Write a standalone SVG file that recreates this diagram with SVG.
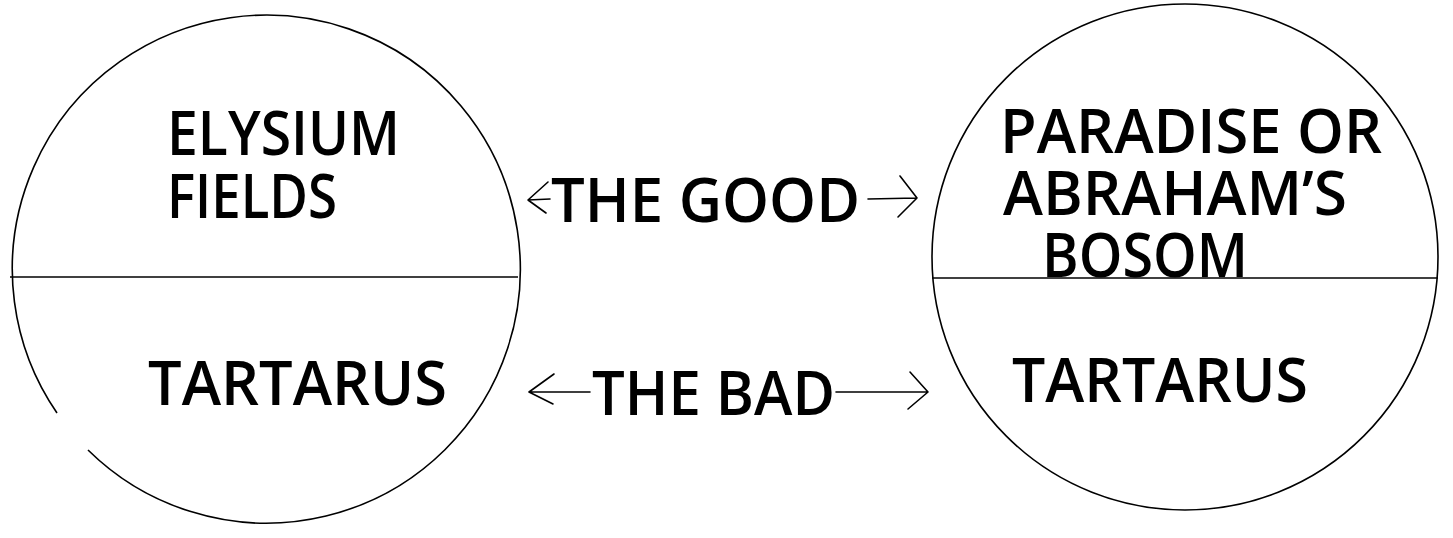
<svg xmlns="http://www.w3.org/2000/svg" width="1453" height="538" viewBox="0 0 1453 538">
<style>
.ring{fill:none;stroke:#000;stroke-width:1.6}
.div{stroke:#000;stroke-width:1.6}
.lbl{font-family:"Open Sans","Noto Sans","Liberation Sans",sans-serif;font-weight:600;font-size:61px;fill:#000}
.arr{fill:none;stroke:#000;stroke-width:1.6;stroke-linecap:round;stroke-linejoin:round}
</style>
<rect width="1453" height="538" fill="#fff"/>
<g id="left-circle">
<path class="ring" d="M 88 450 A 254 254 0 1 0 57 413"/>
<line class="div" x1="10" y1="277" x2="518" y2="277"/>
<text class="lbl" x="167" y="155" textLength="233" lengthAdjust="spacingAndGlyphs">ELYSIUM</text>
<text class="lbl" x="167" y="218" textLength="170" lengthAdjust="spacingAndGlyphs">FIELDS</text>
<text class="lbl" x="148" y="405" textLength="299" lengthAdjust="spacingAndGlyphs">TARTARUS</text>
</g>
<g id="right-circle">
<circle class="ring" cx="1185" cy="257" r="253"/>
<line class="div" x1="932" y1="278" x2="1438" y2="278"/>
<text class="lbl" x="1000" y="153" textLength="382" lengthAdjust="spacingAndGlyphs">PARADISE OR</text>
<text class="lbl" x="1003" y="215" textLength="344" lengthAdjust="spacingAndGlyphs">ABRAHAM’S</text>
<text class="lbl" x="1042" y="277" textLength="206" lengthAdjust="spacingAndGlyphs">BOSOM</text>
<text class="lbl" x="1012" y="402" textLength="296" lengthAdjust="spacingAndGlyphs">TARTARUS</text>
</g>
<g id="connectors">
<g id="good">
<path class="arr" d="M 550 199 L 528 200 M 548 182 L 528 200 L 546 213"/>
<path class="arr" d="M 868 199 L 917 198 M 900 176 L 917 198 L 898 217"/>
<text class="lbl" x="551" y="222" textLength="309" lengthAdjust="spacingAndGlyphs">THE GOOD</text>
</g>
<g id="bad">
<path class="arr" d="M 590 392 L 529 392 M 554 374 L 529 392 L 553 404"/>
<path class="arr" d="M 836 392 L 928 392 M 910 372 L 928 392 L 908 409"/>
<text class="lbl" x="592" y="415" textLength="243" lengthAdjust="spacingAndGlyphs">THE BAD</text>
</g>
</g>
</svg>
